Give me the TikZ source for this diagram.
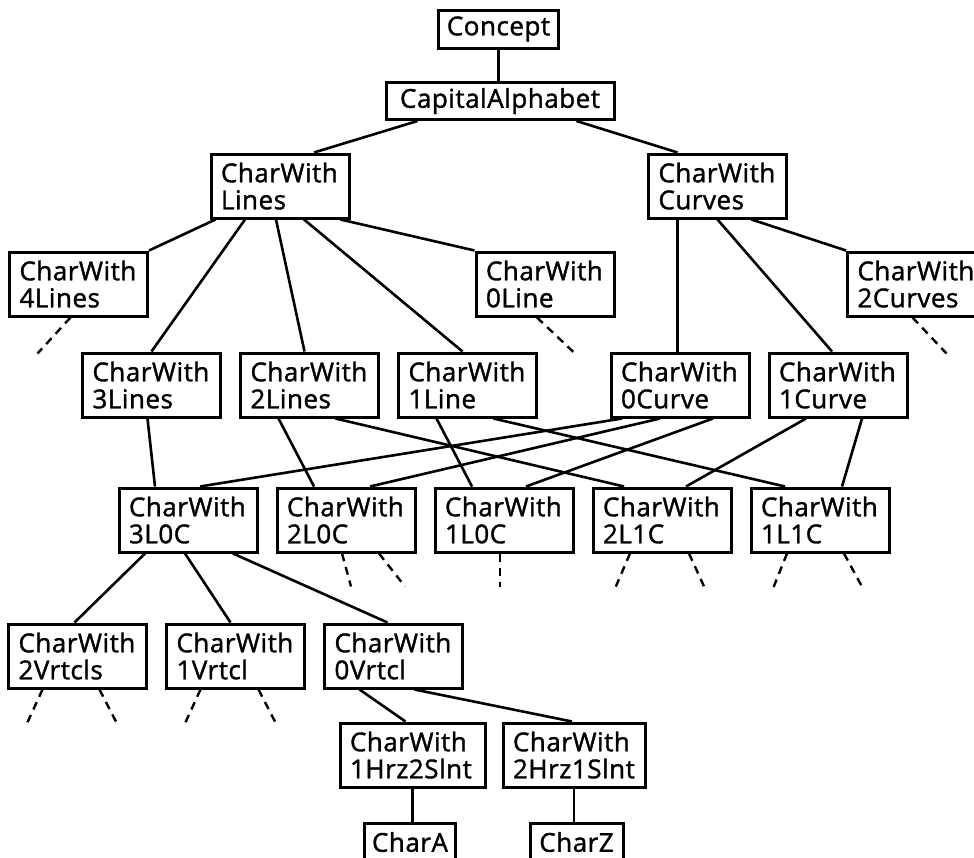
\documentclass[tikz,border=0pt]{standalone}
\usepackage{fontspec}
\setmainfont{Open Sans}[LetterSpace=2,FakeBold=1.4]
\usetikzlibrary{positioning}

\begin{document}
\begin{tikzpicture}[
    x=1pt, y=-1pt,
    node distance=17pt,
    box/.style={rectangle, draw, line width=3pt, text width=118pt, inner xsep=10pt, minimum height=64pt, align=left, font=\fontsize{26}{27}\selectfont},
    single/.style={rectangle, draw, line width=3pt, inner xsep=8pt, minimum height=37pt, font=\fontsize{26}{27}\selectfont},
    link/.style={line width=2.6pt},
    stub/.style={line width=2.4pt, dash pattern=on 8pt off 6pt}
]
\useasboundingbox (0,0) rectangle (974,857);
\clip (0,0) rectangle (974,857);

% Top of the hierarchy
\node[single, minimum height=38pt] (concept) at (498.5,29) {Concept};
\node[single, minimum width=228pt] (alphabet) at (500,101) {CapitalAlphabet};
\node[box] (lines) at (280,186) {CharWith\\Lines};
\node[box] (curves) at (717.5,186) {CharWith\\Curves};

% Counts of lines and curves
\node[box] (fourlines) at (78.5,284) {CharWith\\4Lines};
\node[box] (zeroline) at (545,284) {CharWith\\0Line};
\node[box] (twocurves) at (916.5,284) {CharWith\\2Curves};
\node[box] (threelines) at (151.5,385) {CharWith\\3Lines};
\node[box, right=of threelines] (twolines) {CharWith\\2Lines};
\node[box, right=of twolines] (oneline) {CharWith\\1Line};
\node[box] (zerocurve) at (680,385) {CharWith\\0Curve};
\node[box, right=of zerocurve] (onecurve) {CharWith\\1Curve};

% Combined classes
\node[box] (c3l0c) at (188,520) {CharWith\\3L0C};
\node[box, right=of c3l0c] (c2l0c) {CharWith\\2L0C};
\node[box, right=of c2l0c] (c1l0c) {CharWith\\1L0C};
\node[box, right=of c1l0c] (c2l1c) {CharWith\\2L1C};
\node[box, right=of c2l1c] (c1l1c) {CharWith\\1L1C};

\node[box] (twovert) at (77.5,656) {CharWith\\2Vrtcls};
\node[box, right=of twovert] (onevert) {CharWith\\1Vrtcl};
\node[box, right=of onevert] (zerovert) {CharWith\\0Vrtcl};
\node[box, text width=125pt] (onehrz) at (412.5,755) {CharWith\\1Hrz2Slnt};
\node[box, text width=122pt] (twohrz) at (574,755) {CharWith\\2Hrz1Slnt};
\node[single, minimum height=38pt] (chara) at (410,842) {CharA};
\node[single, minimum width=93pt, minimum height=38pt] (charz) at (576.5,842) {CharZ};

\draw[link] (concept.south) -- (concept.south |- alphabet.north);
\draw[link] ([xshift=33pt]alphabet.south west) -- ([xshift=34pt]lines.north);
\draw[link] ([xshift=-39pt]alphabet.south east) -- ([xshift=-40pt]curves.north);

\draw[link] ([xshift=6pt]lines.south west) -- (fourlines.north east);
\draw[link] ([xshift=-35pt]lines.south) -- (threelines.north);
\draw[link] ([xshift=-4pt]lines.south) -- ([xshift=-5pt]twolines.north);
\draw[link] ([xshift=24pt]lines.south) -- ([xshift=-5pt]oneline.north);
\draw[link] ([xshift=-10pt]lines.south east) -- (zeroline.north west);
\draw[link] ([xshift=-40pt]curves.south) -- ([xshift=-40pt]curves.south |- zerocurve.north);
\draw[link] (curves.south) -- ([xshift=-6pt]onecurve.north);
\draw[link] ([xshift=34pt]curves.south) -- (twocurves.north west);

\draw[stub] ([xshift=-8pt]fourlines.south) -- ++(-33,36);
\draw[stub] ([xshift=-8pt]zeroline.south) -- ++(38,36);
\draw[stub] ([xshift=-4pt]twocurves.south) -- ++(34,36);

% Lines and curves cross into the combined classes
\draw[link] ([xshift=-4pt]threelines.south) -- ([xshift=-33pt]c3l0c.north);
\draw[link] ([xshift=-31pt]twolines.south) -- ([xshift=-32pt]c2l0c.north);
\draw[link] ([xshift=26pt]twolines.south) -- ([xshift=-38pt]c2l1c.north);
\draw[link] ([xshift=-31pt]oneline.south) -- ([xshift=-32pt]c1l0c.north);
\draw[link] ([xshift=26pt]oneline.south) -- ([xshift=-35pt]c1l1c.north);
\draw[link] ([xshift=-58pt]zerocurve.south) -- ([xshift=12pt]c3l0c.north);
\draw[link] ([xshift=-20pt]zerocurve.south) -- ([xshift=24pt]c2l0c.north);
\draw[link] ([xshift=33pt]zerocurve.south) -- ([xshift=22pt]c1l0c.north);
\draw[link] ([xshift=-32pt]onecurve.south) -- ([xshift=24pt]c2l1c.north);
\draw[link] ([xshift=24pt]onecurve.south) -- ([xshift=22pt]c1l1c.north);

\draw[stub] ([xshift=-4pt]c2l0c.south) -- ++(9,33);
\draw[stub] ([xshift=33pt]c2l0c.south) -- ++(26,33);
\draw[stub] ([xshift=-4pt]c1l0c.south) -- ++(0,33);
\draw[stub] ([xshift=-32pt]c2l1c.south) -- ++(-15,35);
\draw[stub] ([xshift=27pt]c2l1c.south) -- ++(16,35);
\draw[stub] ([xshift=-33pt]c1l1c.south) -- ++(-14,35);
\draw[stub] ([xshift=24pt]c1l1c.south) -- ++(19,35);

\draw[link] ([xshift=-43pt]c3l0c.south) -- ([xshift=-3pt]twovert.north);
\draw[link] ([xshift=-3pt]c3l0c.south) -- ([xshift=-5pt]onevert.north);
\draw[link] ([xshift=45pt]c3l0c.south) -- ([xshift=-6pt]zerovert.north);

\draw[stub] ([xshift=-35pt]twovert.south) -- ++(-16,35);
\draw[stub] ([xshift=22pt]twovert.south) -- ++(18,35);
\draw[stub] ([xshift=-35pt]onevert.south) -- ++(-16,35);
\draw[stub] ([xshift=23pt]onevert.south) -- ++(18,35);

% Down to single letters
\draw[link] ([xshift=-34pt]zerovert.south) -- ([xshift=-7pt]onehrz.north);
\draw[link] ([xshift=21pt]zerovert.south) -- ([xshift=-2pt]twohrz.north);
\draw[link] (onehrz.south) -- (onehrz.south |- chara.north);
\draw[link] (twohrz.south) -- (twohrz.south |- charz.north);
\end{tikzpicture}
\end{document}
